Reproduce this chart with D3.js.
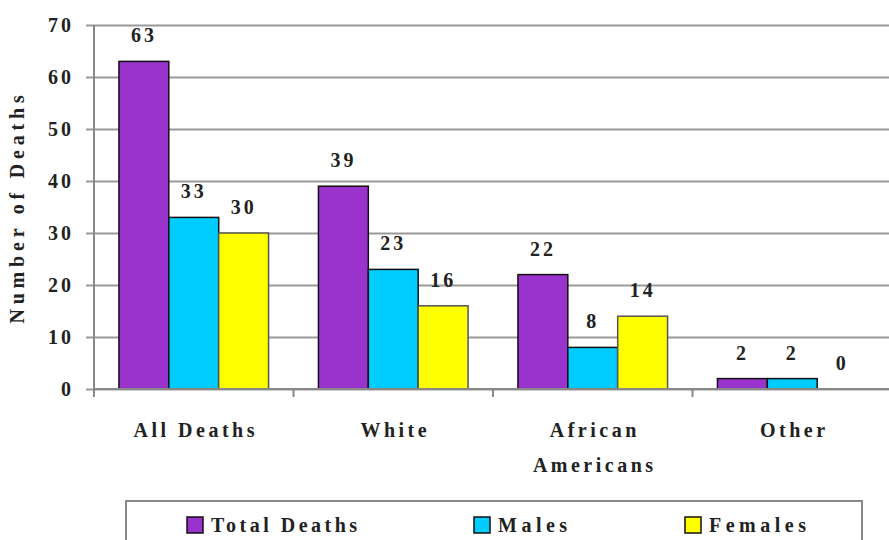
<!DOCTYPE html>
<html>
<head>
<meta charset="utf-8">
<script src="https://cdn.jsdelivr.net/npm/d3@7"></script>
<style>
  html, body { margin: 0; padding: 0; background: #fff; }
  svg { display: block; }
  svg text { font-family: "Liberation Serif", "DejaVu Serif", serif; font-weight: 700; }
</style>
</head>
<body>
<svg id="chart" width="889" height="540"></svg>
<script>
// Deaths by group, split into total, males and females
const categories = [["All Deaths"], ["White"], ["African", "Americans"], ["Other"]];
const seriesNames = ["Total Deaths", "Males", "Females"];
const totalDeaths = [63, 39, 22, 2];
const males = [33, 23, 8, 2];
const females = [30, 16, 14, 0];
const seriesColors = ["#9933CC", "#00CCFF", "#FFFF00"];
const yTicks = [0, 10, 20, 30, 40, 50, 60, 70];

const series = [totalDeaths, males, females];
const plot = { left: 94, right: 892, top: 25, bottom: 389 };
const svg = d3.select("#chart");

function styleText(sel, spacing) {
  return sel
    .style("font-family", "\"Liberation Serif\", \"DejaVu Serif\", serif")
    .style("font-weight", "700")
    .style("font-size", "20px")
    .style("fill", "#222")
    .style("letter-spacing", spacing + "px");
}

const keys = categories.map(c => c.join(" "));
const x0 = d3.scaleBand().domain(keys).range([plot.left, plot.right]).paddingInner(0).paddingOuter(0);
const x1 = d3.scaleBand().domain(seriesNames).range([0, x0.bandwidth()]).paddingOuter(0.5).paddingInner(0);
const y = d3.scaleLinear().domain([0, 70]).range([plot.bottom, plot.top]);

// Horizontal gridlines with left tick marks
svg.append("g")
  .attr("transform", `translate(${plot.left},0)`)
  .call(d3.axisLeft(y).tickValues(yTicks).tickSize(-(plot.right - plot.left)).tickFormat(""))
  .call(g => g.select(".domain").remove())
  .call(g => g.selectAll(".tick line").attr("stroke", "#999").attr("stroke-width", 2).attr("x1", -8));

// Y axis tick labels
styleText(svg.append("g").selectAll("text")
  .data(yTicks)
  .join("text")
  .attr("x", 74)
  .attr("y", d => y(d))
  .attr("dy", "0.35em")
  .attr("text-anchor", "end"), 3)
  .text(d => d);

// Y axis line
svg.append("line")
  .attr("x1", plot.left).attr("x2", plot.left)
  .attr("y1", plot.top).attr("y2", plot.bottom + 8)
  .attr("stroke", "#888").attr("stroke-width", 2);

// Bars
const groups = svg.append("g").selectAll("g")
  .data(keys)
  .join("g")
  .attr("transform", k => `translate(${x0(k)},0)`);

groups.selectAll("rect")
  .data((k, i) => seriesNames.map((s, j) => ({ s, j, v: series[j][i] })))
  .join("rect")
  .filter(d => d.v > 0)
  .attr("x", d => x1(d.s))
  .attr("y", d => y(d.v))
  .attr("width", x1.bandwidth())
  .attr("height", d => y(0) - y(d.v))
  .attr("fill", d => seriesColors[d.j])
  .attr("stroke", d => d.j === 2 ? "#555" : "#111")
  .attr("stroke-width", 1.5);

// Value labels above bars
styleText(groups.selectAll("text.val")
  .data((k, i) => seriesNames.map((s, j) => ({ s, j, v: series[j][i] })))
  .join("text")
  .attr("class", "val")
  .attr("x", d => x1(d.s) + x1.bandwidth() / 2)
  .attr("y", d => y(d.v) - 19)
  .attr("text-anchor", "middle"), 3)
  .text(d => d.v);

// X axis line and category separators
svg.append("line")
  .attr("x1", plot.left).attr("x2", plot.right)
  .attr("y1", plot.bottom).attr("y2", plot.bottom)
  .attr("stroke", "#888").attr("stroke-width", 2);
svg.append("g").selectAll("line")
  .data(keys.slice(1))
  .join("line")
  .attr("x1", k => x0(k)).attr("x2", k => x0(k))
  .attr("y1", plot.bottom).attr("y2", plot.bottom + 8)
  .attr("stroke", "#888").attr("stroke-width", 2);

// Category labels
styleText(svg.append("g").selectAll("text")
  .data(categories)
  .join("text")
  .attr("x", (c, i) => x0(keys[i]) + x0.bandwidth() / 2 + 2)
  .attr("y", 437)
  .attr("text-anchor", "middle"), 3.5)
  .selectAll("tspan")
  .data(c => c)
  .join("tspan")
  .attr("x", function () { return this.parentNode.getAttribute("x"); })
  .attr("dy", (d, i) => i === 0 ? 0 : 35)
  .text(d => d);

// Y axis title
styleText(svg.append("text")
  .attr("transform", `translate(24,${(plot.top + plot.bottom) / 2}) rotate(-90)`)
  .attr("text-anchor", "middle"), 4.8)
  .text("Number of Deaths");

// Legend
const legend = svg.append("g");
legend.append("rect")
  .attr("x", 126).attr("y", 501)
  .attr("width", 736).attr("height", 60)
  .attr("fill", "#fff").attr("stroke", "#888").attr("stroke-width", 2);
const legendX = [187, 474, 685];
const items = legend.selectAll("g.item")
  .data(seriesNames)
  .join("g")
  .attr("class", "item")
  .attr("transform", (s, i) => `translate(${legendX[i]},517)`);
items.append("rect")
  .attr("width", 16).attr("height", 16)
  .attr("fill", (s, i) => seriesColors[i])
  .attr("stroke", "#111").attr("stroke-width", 1.5);
styleText(items.append("text")
  .attr("x", 24).attr("y", 8)
  .attr("dy", "0.35em"), (s, i) => 0)
  .style("letter-spacing", (s, i) => (i === 0 ? 3.5 : 4.5) + "px")
  .text(s => s);
</script>
</body>
</html>
